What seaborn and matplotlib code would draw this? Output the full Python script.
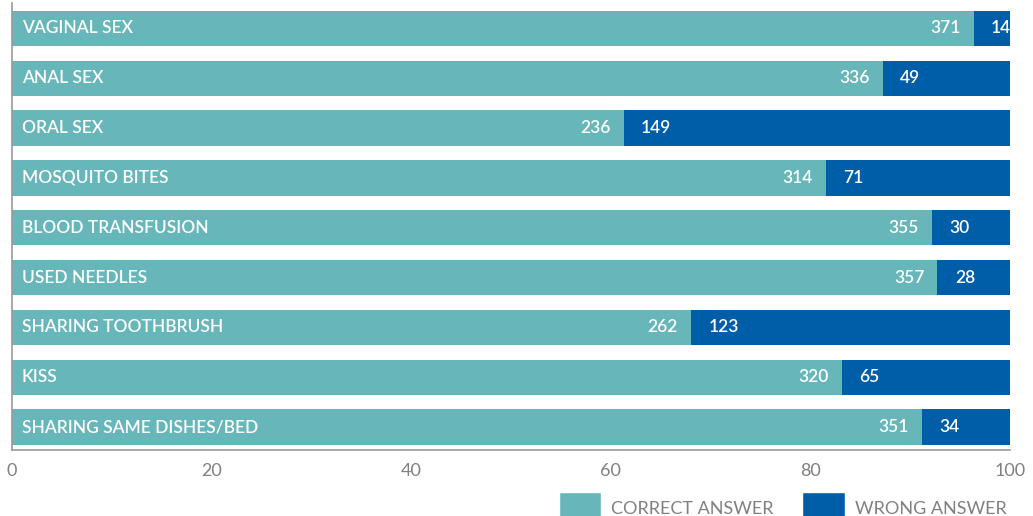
import matplotlib
matplotlib.use("Agg")
import matplotlib.pyplot as plt
from matplotlib.patches import Patch
import seaborn as sns
import pandas as pd

categories = ["VAGINAL SEX", "ANAL SEX", "ORAL SEX", "MOSQUITO BITES",
              "BLOOD TRANSFUSION", "USED NEEDLES", "SHARING TOOTHBRUSH",
              "KISS", "SHARING SAME DISHES/BED"]
correct = [371, 336, 236, 314, 355, 357, 262, 320, 351]
wrong = [14, 49, 149, 71, 30, 28, 123, 65, 34]
xticks = [0, 20, 40, 60, 80, 100]

TEAL = "#66B6BA"
BLUE = "#005DA8"

sns.set_theme(style="white")
plt.rcParams["font.family"] = ["Lato", "DejaVu Sans"]

df = pd.DataFrame({"category": categories, "correct": correct, "wrong": wrong})
df["total"] = df["correct"] + df["wrong"]
df["correct_pct"] = df["correct"] / df["total"] * 100
df["full_pct"] = 100.0

fig = plt.figure(figsize=(10.33, 5.16), dpi=100)
ax = fig.add_axes([12 / 1033, 1 - 450 / 516, 998 / 1033, 447 / 516])

sns.barplot(data=df, y="category", x="full_pct", color=BLUE, orient="h",
            width=0.71, ax=ax, saturation=1, linewidth=0)
sns.barplot(data=df, y="category", x="correct_pct", color=TEAL, orient="h",
            width=0.71, ax=ax, saturation=1, linewidth=0)

for i, row in df.iterrows():
    ax.text(1.0, i, row["category"], ha="left", va="center", color="white",
            fontsize=12.5, fontweight="semibold")
    ax.annotate(str(row["correct"]), (row["correct_pct"], i), xytext=(-9.5, 0),
                textcoords="offset points", ha="right", va="center",
                color="white", fontsize=12.5, fontweight="semibold")
    ax.annotate(str(row["wrong"]), (row["correct_pct"], i), xytext=(12.5, 0),
                textcoords="offset points", ha="left", va="center",
                color="white", fontsize=12.5, fontweight="semibold",
                annotation_clip=False, clip_on=False)

ax.set_xlim(0, 100)
ax.set_ylim(8.46, -0.51)
ax.set_xticks(xticks)
ax.set_xticklabels([str(t) for t in xticks], color="#808080", fontsize=13)
ax.set_yticks([])
ax.set_xlabel("")
ax.set_ylabel("")
ax.tick_params(axis="x", length=0, pad=9)
for s in ["top", "right"]:
    ax.spines[s].set_visible(False)
for s in ["left", "bottom"]:
    ax.spines[s].set_color("#9a9a9a")
    ax.spines[s].set_linewidth(1.2)

handles = [Patch(facecolor=TEAL, label="CORRECT ANSWER"),
           Patch(facecolor=BLUE, label="WRONG ANSWER")]
fig.legend(handles=handles, loc="lower right", bbox_to_anchor=(0.99, -0.048),
           ncol=2, frameon=False, fontsize=13, handlelength=2.35,
           handleheight=2.4, handletextpad=0.55, columnspacing=1.6,
           labelcolor="#808080")

fig.savefig("out.png", dpi=100)
